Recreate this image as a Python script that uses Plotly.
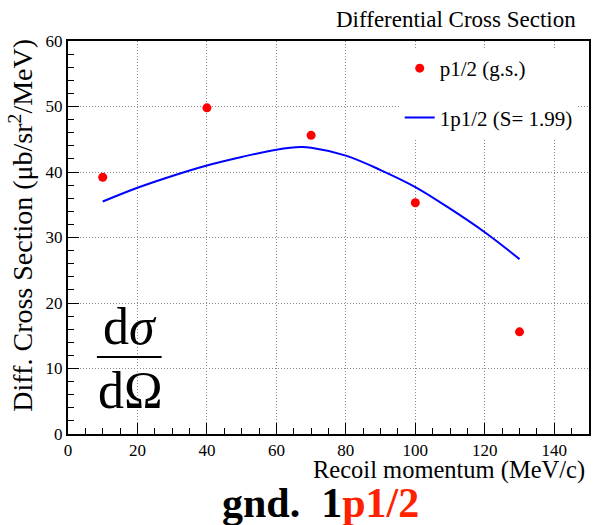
import plotly.graph_objects as go

# data
data_x = [10, 40, 70, 100, 130]
data_y = [39.2, 49.8, 45.6, 35.3, 15.6]
curve_x = [10, 20, 30, 40, 50, 60, 67, 70, 80, 90, 100, 110, 120, 130]
curve_y = [35.5, 37.6, 39.4, 41.0, 42.3, 43.4, 43.8, 43.7, 42.5, 40.3, 37.7, 34.4, 30.8, 26.7]
x_ticks = [0, 20, 40, 60, 80, 100, 120, 140]
y_ticks = [0, 10, 20, 30, 40, 50, 60]

FONT = "Liberation Serif"
W, H = 593, 525
L, R, T, B = 68, 2, 41, 91

fig = go.Figure()
fig.add_trace(go.Scatter(
    x=data_x, y=data_y, mode="markers", name="p1/2 (g.s.)",
    marker=dict(color="#ff0000", size=9), legendgroup="a"))
fig.add_trace(go.Scatter(
    x=curve_x, y=curve_y, mode="lines", name="1p1/2 (S= 1.99)",
    line=dict(color="#0000ff", width=2, shape="spline"), legendgroup="b"))

axis_common = dict(
    showline=True, linecolor="black", linewidth=2, mirror=True,
    ticks="inside", tickcolor="black", tickwidth=1, ticklen=11,
    showgrid=True, gridcolor="#8a8a8a", griddash="1px,2px", gridwidth=1,
    zeroline=False, tickfont=dict(family=FONT, size=17, color="black"),
)

fig.update_xaxes(range=[0, 150], tickvals=x_ticks, ticktext=[str(v) for v in x_ticks],
                 minor=dict(dtick=5, tick0=0, ticks="inside", ticklen=6, tickcolor="black", showgrid=False),
                 **axis_common)
fig.update_yaxes(range=[0, 60], tickvals=y_ticks, ticktext=[str(v) for v in y_ticks],
                 minor=dict(dtick=2, tick0=0, ticks="inside", ticklen=6, tickcolor="black", showgrid=False),
                 **axis_common)

def px2paper_x(px):
    return (px - L) / (W - L - R)

def px2paper_y(py):
    return (H - B - py) / (H - T - B)

def ann(**kw):
    d = dict(xref="paper", yref="paper", showarrow=False)
    d.update(kw)
    return d

annotations = [
    ann(text="Differential Cross Section", x=px2paper_x(580), y=px2paper_y(19),
        xanchor="right", yanchor="middle",
        font=dict(family=FONT, size=23, color="black")),
    ann(text="Recoil momentum (MeV/c)", x=px2paper_x(589), y=px2paper_y(470),
        xanchor="right", yanchor="middle",
        font=dict(family=FONT, size=24.5, color="black")),
    ann(text="Diff. Cross Section (\u03bcb/sr<sup>2</sup>/MeV)", x=px2paper_x(21), y=px2paper_y(37),
        xanchor="center", yanchor="top", textangle=-90,
        font=dict(family=FONT, size=28, color="black")),
    ann(text="<b>gnd.  1<span style='color:#ff2200'>p1/2</span></b>", x=px2paper_x(321), y=px2paper_y(503),
        xanchor="center", yanchor="middle",
        font=dict(family=FONT, size=42, color="black")),
    ann(text="d<i>\u03c3</i>", x=px2paper_x(130), y=px2paper_y(326),
        xanchor="center", yanchor="middle",
        font=dict(family=FONT, size=52, color="black")),
    ann(text="d\u03a9", x=px2paper_x(131), y=px2paper_y(390),
        xanchor="center", yanchor="middle",
        font=dict(family=FONT, size=52, color="black")),
]

fig.update_layout(
    width=W, height=H,
    margin=dict(l=L, r=R, t=T, b=B),
    plot_bgcolor="white", paper_bgcolor="white",
    annotations=annotations,
    shapes=[dict(type="line", xref="paper", yref="paper",
                 x0=px2paper_x(97), x1=px2paper_x(162), y0=px2paper_y(357), y1=px2paper_y(357),
                 line=dict(color="black", width=2))],
    showlegend=True,
    legend=dict(x=px2paper_x(401), y=px2paper_y(48), xanchor="left", yanchor="top",
                bgcolor="white", borderwidth=0, traceorder="grouped", tracegroupgap=19,
                font=dict(family=FONT, size=21, color="black")),
)

fig.write_html("out.html")
